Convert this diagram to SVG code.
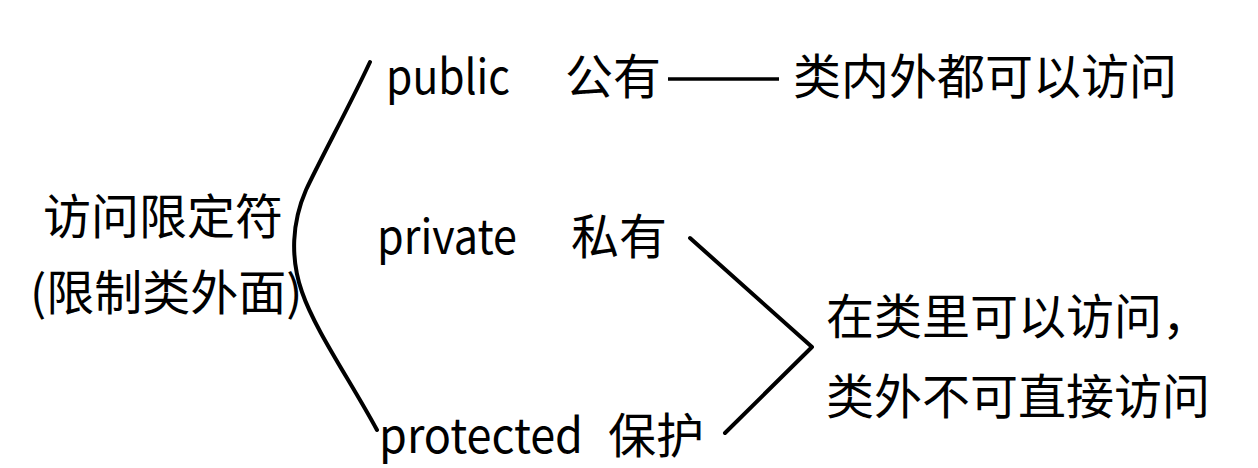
<svg xmlns="http://www.w3.org/2000/svg" width="1258" height="468" viewBox="0 0 1258 468">
<style>
text{font-family:"Noto Sans CJK SC","Noto Sans",sans-serif;font-size:48px;fill:#000}
.ln{fill:none;stroke:#000;stroke-width:4;stroke-linecap:round;stroke-linejoin:round}
</style>
<rect width="1258" height="468" fill="#fff"/>
<g id="root">
<text x="43" y="234">访问限定符</text>
<text x="30" y="310">(限制类外面)</text>
</g>
<g id="public">
<text x="386" y="94" textLength="124" lengthAdjust="spacingAndGlyphs">public</text>
<text x="565" y="94">公有</text>
</g>
<g id="public-desc">
<text x="793" y="94">类内外都可以访问</text>
</g>
<g id="private">
<text x="377" y="254" textLength="140" lengthAdjust="spacingAndGlyphs">private</text>
<text x="571" y="254">私有</text>
</g>
<g id="protected">
<text x="379" y="453" textLength="204" lengthAdjust="spacingAndGlyphs">protected</text>
<text x="608" y="453">保护</text>
</g>
<g id="private-protected-desc">
<text x="826" y="334">在类里可以访问，</text>
<text x="826" y="414">类外不可直接访问</text>
</g>
<g id="connectors">
<path class="ln" d="M370,62 C350,105 320,160 306,190 C292,222 290,258 302,292 C315,330 350,380 377,430"/>
<line x1="668" y1="79" x2="779" y2="79" stroke="#000" stroke-width="3.5"/>
<path class="ln" d="M690,238 L812,347 L725,433"/>
</g>
</svg>
